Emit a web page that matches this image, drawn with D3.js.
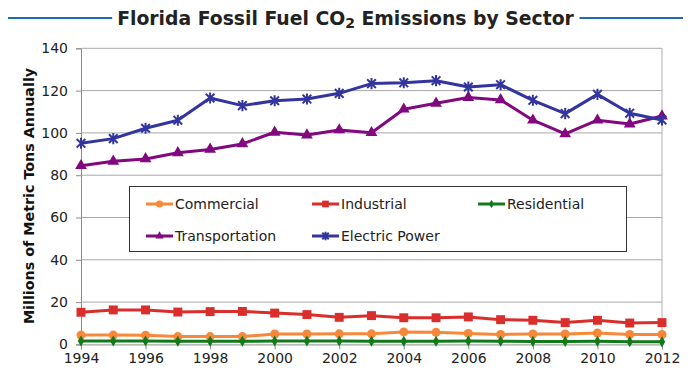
<!DOCTYPE html>
<html>
<head>
<meta charset="utf-8">
<script src="https://cdn.jsdelivr.net/npm/d3@7"></script>
<style>
  html, body { margin: 0; padding: 0; background: #fff; }
  svg { display: block; font-family: "DejaVu Sans", Verdana, sans-serif; }
</style>
</head>
<body>
<svg id="chart" width="690" height="373"></svg>
<script>
// Florida fossil fuel CO2 emissions, millions of metric tons per year
const years = [1994, 1995, 1996, 1997, 1998, 1999, 2000, 2001, 2002, 2003,
               2004, 2005, 2006, 2007, 2008, 2009, 2010, 2011, 2012];
const commercial     = [4.4, 4.4, 4.3, 3.7, 3.7, 3.7, 4.9, 4.9, 5.0, 5.0,
                        5.9, 5.7, 5.2, 4.7, 4.9, 4.9, 5.4, 4.7, 4.7];
const industrial     = [15.2, 16.3, 16.3, 15.3, 15.5, 15.6, 14.8, 14.1, 12.8, 13.6,
                        12.6, 12.6, 13.0, 11.7, 11.4, 10.3, 11.4, 10.1, 10.3];
const residential    = [1.6, 1.6, 1.6, 1.5, 1.5, 1.5, 1.6, 1.6, 1.6, 1.5,
                        1.5, 1.5, 1.6, 1.5, 1.4, 1.4, 1.5, 1.3, 1.2];
const transportation = [84.5, 86.6, 87.7, 90.6, 92.2, 94.8, 100.3, 99.0, 101.4, 100.1,
                        111.2, 114.0, 116.7, 115.6, 106.0, 99.5, 106.0, 104.2, 108.0];
const electricPower  = [95.1, 97.3, 102.2, 106.0, 116.5, 112.9, 115.2, 116.0, 118.7, 123.3,
                        123.7, 124.7, 121.7, 122.8, 115.4, 109.1, 118.2, 109.3, 106.1];

const yTicks = [0, 20, 40, 60, 80, 100, 120, 140];
const xTicks = [1994, 1996, 1998, 2000, 2002, 2004, 2006, 2008, 2010, 2012];

// X-and-plus style star marker
const symbolStar = {
  draw(ctx, size) {
    const r = Math.sqrt(size) * 0.62;
    const d = r * 0.78;
    ctx.moveTo(0, -r); ctx.lineTo(0, r);
    ctx.moveTo(-d, -d); ctx.lineTo(d, d);
    ctx.moveTo(-d, d); ctx.lineTo(d, -d);
  }
};

const series = [
  { name: "Commercial",     values: commercial,     color: "#f7883a", symbol: d3.symbolCircle,   size: 64, legendSize: 40, stroke: false },
  { name: "Industrial",     values: industrial,     color: "#d92e2b", symbol: d3.symbolSquare,   size: 80, legendSize: 45, stroke: false },
  { name: "Residential",    values: residential,    color: "#127a1a", symbol: d3.symbolDiamond,  size: 36, legendSize: 22, stroke: false },
  { name: "Transportation", values: transportation, color: "#82087f", symbol: d3.symbolTriangle, size: 60, legendSize: 30, stroke: false },
  { name: "Electric Power", values: electricPower,  color: "#33359e", symbol: symbolStar,        size: 80, legendSize: 45, stroke: true }
];

const svg = d3.select("#chart");
const plotLeft = 81, plotRight = 662, plotTop = 48.3, plotBottom = 344.4;

const x = d3.scaleLinear().domain([1994, 2012]).range([plotLeft, plotRight]);
const y = d3.scaleLinear().domain([0, 140]).range([plotBottom, plotTop]);

// Title with rules on both sides
const title = svg.append("text")
  .attr("x", 345.5).attr("y", 24.5)
  .attr("text-anchor", "middle")
  .attr("font-size", 18.8).attr("font-weight", "bold").attr("fill", "#222");
title.append("tspan").text("Florida Fossil Fuel CO");
title.append("tspan").attr("font-size", 14).attr("dy", 3).text("2");
title.append("tspan").attr("dy", -3).text(" Emissions by Sector");
const tb = title.node().getBBox();
svg.append("line").attr("x1", 8).attr("x2", tb.x - 5).attr("y1", 18).attr("y2", 18)
  .attr("stroke", "#1e6aad").attr("stroke-width", 2);
svg.append("line").attr("x1", tb.x + tb.width + 5).attr("x2", 683).attr("y1", 18).attr("y2", 18)
  .attr("stroke", "#1e6aad").attr("stroke-width", 2);

// Horizontal gridlines
svg.append("g").selectAll("line").data(yTicks.filter(t => t > 0)).join("line")
  .attr("x1", plotLeft).attr("x2", plotRight)
  .attr("y1", d => y(d)).attr("y2", d => y(d))
  .attr("stroke", "#a8a8a8").attr("stroke-width", 1);

// Right border of the plot area
svg.append("line").attr("x1", plotRight).attr("x2", plotRight).attr("y1", plotTop).attr("y2", plotBottom)
  .attr("stroke", "#b0b0b0");

// Y axis
const yAxis = svg.append("g").attr("transform", `translate(${plotLeft},0)`)
  .call(d3.axisLeft(y).tickValues(yTicks).tickSize(5).tickPadding(8));
yAxis.select(".domain").attr("stroke", "#8c8c8c");
yAxis.selectAll(".tick line").attr("stroke", "#8c8c8c");
yAxis.selectAll("text").attr("font-size", 14).attr("fill", "#222")
  .attr("font-family", "DejaVu Sans, Verdana, sans-serif");

// X axis
const xAxis = svg.append("g").attr("transform", `translate(0,${plotBottom})`)
  .call(d3.axisBottom(x).tickValues(xTicks).tickFormat(d3.format("d")).tickSize(5).tickPadding(4));
xAxis.select(".domain").attr("stroke", "#8c8c8c");
xAxis.selectAll(".tick line").attr("stroke", "#8c8c8c");
xAxis.selectAll("text").attr("font-size", 14).attr("fill", "#222")
  .attr("font-family", "DejaVu Sans, Verdana, sans-serif");

// Y axis title
svg.append("text")
  .attr("transform", "translate(33.5,196) rotate(-90)")
  .attr("text-anchor", "middle")
  .attr("font-size", 14.3).attr("font-weight", "bold").attr("fill", "#111")
  .text("Millions of Metric Tons Annually");

// Series lines and markers
const line = d3.line().x(d => x(d[0])).y(d => y(d[1]));
function drawMarker(g, s, size) {
  const p = g.append("path").attr("d", d3.symbol(s.symbol, size)());
  if (s.stroke) p.attr("fill", "none").attr("stroke", s.color).attr("stroke-width", 2);
  else p.attr("fill", s.color);
  return p;
}
series.forEach(s => {
  const pts = years.map((yr, i) => [yr, s.values[i]]);
  svg.append("path").datum(pts)
    .attr("d", line)
    .attr("fill", "none").attr("stroke", s.color).attr("stroke-width", 3)
    .attr("stroke-linejoin", "round");
  const mg = svg.append("g");
  pts.forEach(p => {
    const g = mg.append("g").attr("transform", `translate(${x(p[0])},${y(p[1])})`);
    drawMarker(g, s, s.size);
  });
});

// Legend
const legend = svg.append("g");
legend.append("rect").attr("x", 129.5).attr("y", 186.5).attr("width", 497).attr("height", 65)
  .attr("fill", "#fff").attr("stroke", "#333").attr("stroke-width", 1);
const legendPos = [[146, 204], [312, 204], [478, 204], [146, 236], [312, 236]];
series.forEach((s, i) => {
  const [lx, ly] = legendPos[i];
  const g = legend.append("g").attr("transform", `translate(${lx},${ly})`);
  g.append("line").attr("x1", 0).attr("x2", 27).attr("y1", 0).attr("y2", 0)
    .attr("stroke", s.color).attr("stroke-width", 3);
  const mg = g.append("g").attr("transform", "translate(13.5,0)");
  drawMarker(mg, s, s.legendSize);
  g.append("text").attr("x", 29).attr("y", 5).attr("font-size", 14).attr("fill", "#222")
    .text(s.name);
});
</script>
</body>
</html>
